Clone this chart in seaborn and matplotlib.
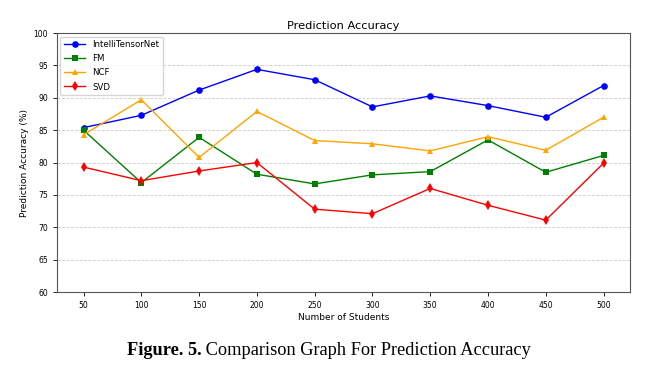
import numpy as np
import matplotlib
matplotlib.use('Agg')
import matplotlib.pyplot as plt
import pandas as pd
import seaborn as sns

# 학생 수
students = [50, 100, 150, 200, 250, 300, 350, 400, 450, 500]

# 모델별 예측 정확도 (%)
intelli = [85.4, 87.3, 91.2, 94.4, 92.8, 88.6, 90.3, 88.8, 87.0, 91.9]
fm = [85.0, 76.9, 83.9, 78.2, 76.7, 78.1, 78.6, 83.5, 78.5, 81.1]
ncf = [84.3, 89.7, 80.8, 87.9, 83.4, 82.9, 81.8, 84.0, 81.9, 87.0]
svd = [79.3, 77.2, 78.7, 80.0, 72.8, 72.1, 76.0, 73.4, 71.1, 79.9]

models = ['IntelliTensorNet', 'FM', 'NCF', 'SVD']
colors = {'IntelliTensorNet': 'blue', 'FM': 'green', 'NCF': 'orange', 'SVD': 'red'}
markers = {'IntelliTensorNet': 'o', 'FM': 's', 'NCF': '^', 'SVD': 'd'}

df = pd.DataFrame({
    'students': students * 4,
    'accuracy': intelli + fm + ncf + svd,
    'model': [m for m in models for _ in students],
})

fig = plt.figure(figsize=(6.55, 3.68), dpi=100)
ax = fig.add_axes([0.087, 0.2065, 0.875, 0.7035])

sns.lineplot(data=df, x='students', y='accuracy', hue='model', style='model',
             hue_order=models, style_order=models, palette=colors,
             markers=markers, dashes=False, markersize=4.8, linewidth=1,
             markeredgewidth=0, ax=ax)

ax.set_xlim(27, 523)
ax.set_ylim(60, 100)
ax.set_xticks(students)
ax.set_yticks(range(60, 101, 5))
ax.tick_params(labelsize=5.5, length=3, width=0.6)
ax.grid(axis='y', linestyle='--', color='#cccccc', linewidth=0.6)
for s in ax.spines.values():
    s.set_linewidth(0.8)
    s.set_color('#555555')

ax.set_title('Prediction Accuracy', fontsize=8.2, pad=3)
ax.set_xlabel('Number of Students', fontsize=6.5, labelpad=2)
ax.set_ylabel('Prediction Accuracy (%)', fontsize=6.5, labelpad=3)

leg = ax.legend(loc='upper left', fontsize=6.2, handlelength=2.5, borderaxespad=0.4,
                labelspacing=0.6, framealpha=0.8)
leg.set_title(None)

# 캡션 (굵은 부분 + 일반 부분)
fig.canvas.draw()
r = fig.canvas.get_renderer()
t1 = fig.text(0, 0.036, 'Figure. 5.', fontsize=13.2, fontweight='bold',
              family='Liberation Serif', va='baseline')
t2 = fig.text(0, 0.036, ' Comparison Graph For Prediction Accuracy', fontsize=13.2,
              family='Liberation Serif', va='baseline')
w1 = t1.get_window_extent(r).width
w2 = t2.get_window_extent(r).width
x0 = 329 - (w1 + w2) / 2
t1.set_x(x0 / 655)
t2.set_x((x0 + w1) / 655)

plt.savefig('out.png', dpi=100)
